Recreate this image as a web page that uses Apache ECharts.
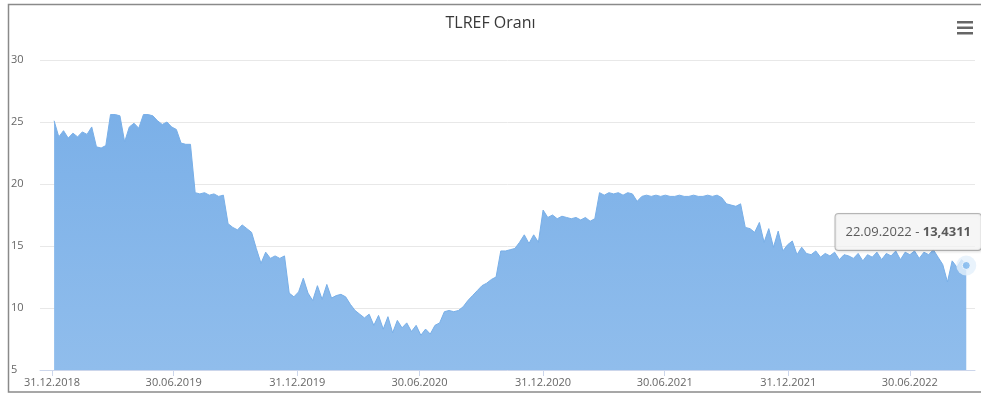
<!DOCTYPE html>
<html>
<head>
<meta charset="utf-8">
<title>TLREF Oranı</title>
<script src="https://cdn.jsdelivr.net/npm/echarts@6/dist/echarts.min.js"></script>
<style>
  html, body { margin: 0; padding: 0; background: #fff; }
  #chart { width: 981px; height: 393px; }
</style>
</head>
<body>
<div id="chart"></div>
<script>
// Weekly TLREF readings, one value per week starting from this Thursday
const weekStart = [2019, 0, 3];
const rates = [
  25.1, 23.8, 24.3, 23.7, 24.1, 23.8, 24.2, 24.0, 24.6, 23.0,
  22.9, 23.1, 25.6, 25.6, 25.5, 23.4, 24.6, 24.9, 24.5, 25.6,
  25.6, 25.5, 25.1, 24.8, 25.0, 24.6, 24.4, 23.3, 23.2, 23.2,
  19.3, 19.2, 19.3, 19.1, 19.2, 19.0, 19.1, 16.8, 16.5, 16.3,
  16.7, 16.4, 16.1, 14.8, 13.6, 14.5, 14.0, 14.2, 14.0, 14.2,
  11.2, 10.9, 11.3, 12.4, 11.2, 10.6, 11.8, 10.7, 11.9, 10.8,
  11.0, 11.1, 10.9, 10.3, 9.8, 9.5, 9.2, 9.5, 8.6, 9.4,
  8.3, 9.3, 8.0, 9.0, 8.4, 8.8, 8.1, 8.6, 7.8, 8.3,
  7.9, 8.6, 8.8, 9.7, 9.8, 9.7, 9.8, 10.1, 10.6, 11.0,
  11.4, 11.8, 12.0, 12.3, 12.5, 14.6, 14.6, 14.7, 14.8, 15.3,
  15.9, 15.2, 15.9, 15.3, 17.9, 17.3, 17.5, 17.2, 17.4, 17.3,
  17.2, 17.3, 17.1, 17.3, 17.0, 17.2, 19.3, 19.1, 19.3, 19.2,
  19.3, 19.1, 19.3, 19.2, 18.6, 19.0, 19.1, 19.0, 19.1, 19.0,
  19.1, 19.0, 19.0, 19.1, 19.0, 19.0, 19.1, 19.0, 19.0, 19.1,
  19.0, 19.1, 18.9, 18.4, 18.3, 18.2, 18.4, 16.5, 16.4, 16.1,
  16.9, 15.3, 16.4, 14.9, 16.2, 14.6, 15.1, 15.4, 14.3, 14.9,
  14.4, 14.3, 14.6, 14.1, 14.4, 14.2, 14.5, 13.9, 14.3, 14.2,
  14.0, 14.4, 13.8, 14.3, 14.1, 14.5, 13.9, 14.4, 14.2, 14.6,
  13.9, 14.5, 14.3, 14.6, 14.0, 14.5, 14.3, 14.7, 14.1, 13.5,
  12.1, 13.8, 13.3, 13.9, 13.4311
];
// Dates shown under the x axis
const tickDates = ['2018-12-31', '2019-06-30', '2019-12-31', '2020-06-30',
                   '2020-12-31', '2021-06-30', '2021-12-31', '2022-06-30'];
const yTicks = { min: 5, max: 30, step: 5 };
const axisRange = ['2018-12-13', '2022-10-05'];

function parseDay(s) {
  const p = s.split('-').map(Number);
  return new Date(p[0], p[1] - 1, p[2]).getTime();
}
function fmtDay(t) {
  const d = new Date(t);
  const pad = n => (n < 10 ? '0' : '') + n;
  return pad(d.getDate()) + '.' + pad(d.getMonth() + 1) + '.' + d.getFullYear();
}

const series = rates.map((v, i) => [
  new Date(weekStart[0], weekStart[1], weekStart[2] + 7 * i).getTime(), v
]);
const last = series[series.length - 1];
const tickValues = tickDates.map(parseDay);

const chart = echarts.init(document.getElementById('chart'), null, { renderer: 'canvas' });
const baseFont = '"Open Sans", "DejaVu Sans", sans-serif';

chart.setOption({
  animation: false,
  backgroundColor: '#ffffff',
  textStyle: { fontFamily: baseFont },
  title: {
    text: 'TLREF Oranı',
    left: 'center',
    top: 10,
    textStyle: { fontFamily: baseFont, fontSize: 16, fontWeight: 'normal', color: '#383838' }
  },
  grid: { left: 40, right: 6, top: 60, bottom: 23, containLabel: false },
  xAxis: {
    // day timestamps on a linear scale
    type: 'value',
    min: parseDay(axisRange[0]),
    max: parseDay(axisRange[1]),
    axisLine: { show: true, lineStyle: { color: '#ccd6eb', width: 1 } },
    axisTick: { show: true, length: 6, lineStyle: { color: '#ccd6eb' }, customValues: tickValues },
    axisLabel: {
      customValues: tickValues,
      formatter: v => fmtDay(v),
      color: '#666',
      fontSize: 11,
      fontFamily: baseFont,
      margin: 7,
      showMinLabel: true,
      showMaxLabel: true
    },
    splitLine: { show: false }
  },
  yAxis: {
    type: 'value',
    min: yTicks.min,
    max: yTicks.max,
    interval: yTicks.step,
    axisLine: { show: false },
    axisTick: { show: false },
    axisLabel: { color: '#666', fontSize: 11, fontFamily: baseFont, align: 'left', margin: 29 },
    splitLine: { show: true, lineStyle: { color: '#e8e8e8', width: 1 } }
  },
  graphic: [
    { type: 'rect', silent: true, shape: { x: 8.5, y: 4.5, width: 990, height: 387.5 },
      style: { fill: null, stroke: '#8a8a8a', lineWidth: 1.5 } },
    { type: 'group', right: 8, top: 21, silent: true, children: [
      { type: 'rect', shape: { x: 0, y: 0, width: 16, height: 2.5 }, style: { fill: '#666' } },
      { type: 'rect', shape: { x: 0, y: 5.5, width: 16, height: 2.5 }, style: { fill: '#666' } },
      { type: 'rect', shape: { x: 0, y: 11, width: 16, height: 2.5 }, style: { fill: '#666' } }
    ] }
  ],
  series: [
    {
      name: 'TLREF',
      type: 'line',
      data: series,
      showSymbol: false,
      lineStyle: { color: '#78afe8', width: 1 },
      areaStyle: {
        origin: 'start',
        opacity: 1,
        color: new echarts.graphic.LinearGradient(0, 0, 0, 1, [
          { offset: 0, color: '#7bb0e8' },
          { offset: 1, color: '#90bdec' }
        ])
      },
      z: 2
    },
    {
      name: 'son',
      type: 'scatter',
      data: [last],
      symbol: 'circle',
      symbolSize: 8,
      itemStyle: { color: '#7cb5ec', borderColor: '#ffffff', borderWidth: 1 },
      markPoint: {
        silent: true,
        symbol: 'circle',
        symbolSize: 20,
        itemStyle: { color: 'rgba(228,240,251,0.8)' },
        label: { show: false },
        data: [{ coord: last }]
      },
      label: {
        show: true,
        position: 'top',
        offset: [-58, -6],
        formatter: p => '{d|' + fmtDay(p.value[0]) + ' - }{v|' +
          String(p.value[1]).replace('.', ',') + '}',
        backgroundColor: 'rgba(250,250,250,0.94)',
        borderColor: '#a8a8a8',
        borderWidth: 1,
        borderRadius: 3,
        padding: [8, 10, 8, 10],
        shadowColor: 'rgba(0,0,0,0.12)',
        shadowBlur: 3,
        shadowOffsetX: 1,
        shadowOffsetY: 1,
        rich: {
          d: { fontFamily: baseFont, fontSize: 13, color: '#333', lineHeight: 20 },
          v: { fontFamily: baseFont, fontSize: 13, color: '#333', fontWeight: 'bold', lineHeight: 20 }
        }
      },
      z: 5
    }
  ]
});
</script>
</body>
</html>
